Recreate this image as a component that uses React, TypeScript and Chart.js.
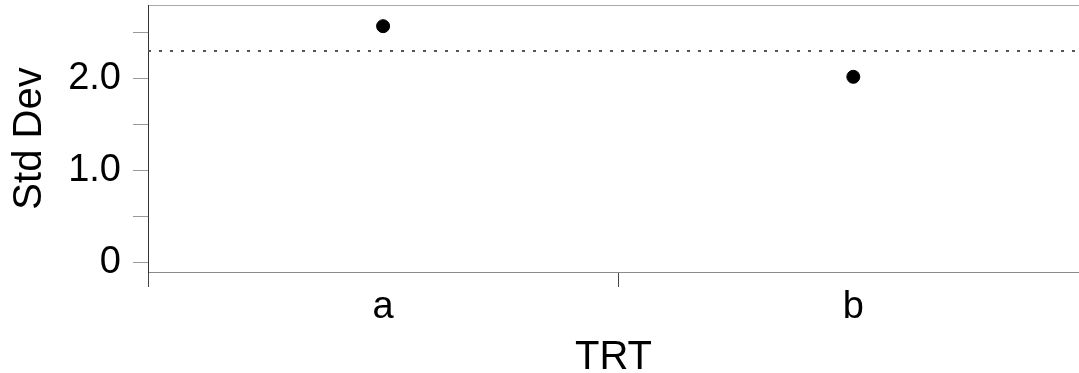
import React, { useEffect, useRef } from "react";
import { Chart, registerables } from "chart.js";

Chart.register(...registerables);

const categories = ["a", "b"];
const stdDevValues = [2.57, 2.02];
const pooledStdDev = 2.3;
const yMajorTicks = [0, 1, 2];
const yMinorTicks = [0.5, 1.5, 2.5];
const yTickLabels = ["0", "1.0", "2.0"];

const FONT = "'Liberation Sans', Arial, Helvetica, sans-serif";
const AXIS_GRAY = "#8a8a8a";

export default function App() {
  const ref = useRef<HTMLCanvasElement | null>(null);

  useEffect(() => {
    if (!ref.current) return;
    const xMax = categories.length - 0.02;
    const points = categories.map((_, i) => ({ x: i + 0.5, y: stdDevValues[i] }));
    const chart = new Chart(ref.current, {
      type: "scatter",
      data: {
        datasets: [
          {
            type: "line",
            data: [
              { x: 0, y: pooledStdDev },
              { x: xMax, y: pooledStdDev },
            ],
            borderColor: "#555",
            borderWidth: 2,
            borderDash: [3, 8],
            pointRadius: 0,
            fill: false,
          } as any,
          {
            data: points,
            backgroundColor: "#000",
            borderColor: "#000",
            pointRadius: 6.5,
            pointHoverRadius: 6.5,
          },
        ],
      },
      options: {
        animation: false,
        responsive: false,
        maintainAspectRatio: false,
        layout: { padding: 0, autoPadding: false },
        plugins: { legend: { display: false }, tooltip: { enabled: false } },
        scales: {
          x: {
            type: "linear",
            position: "bottom",
            min: 0,
            max: xMax,
            afterBuildTicks: (s: any) => {
              s.ticks = [0, 0.5, 1, 1.5].map((v) => ({ value: v }));
            },
            afterFit: (s: any) => {
              s.height = 101;
              s.paddingLeft = 0;
              s.paddingRight = 0;
            },
            ticks: {
              autoSkip: false,
              maxRotation: 0,
              padding: -2,
              color: "#000",
              font: { family: FONT, size: 38 },
              callback: (v: any) => {
                const idx = Number(v) - 0.5;
                return Number.isInteger(idx) ? categories[idx] : "";
              },
            },
            grid: {
              drawOnChartArea: false,
              tickLength: 15,
              tickColor: (ctx: any) =>
                ctx.tick && Number.isInteger(ctx.tick.value) ? "#444" : "rgba(0,0,0,0)",
            },
            border: { color: AXIS_GRAY, width: 1, dash: [2, 1] },
            title: {
              display: true,
              text: "TRT",
              color: "#000",
              font: { family: FONT, size: 40 },
              padding: { top: 0, bottom: -9 },
            },
          },
          xTop: {
            type: "linear",
            position: "top",
            min: 0,
            max: xMax,
            afterFit: (s: any) => {
              s.height = 5;
              s.paddingLeft = 0;
              s.paddingRight = 0;
            },
            ticks: { display: false },
            grid: { display: false, drawTicks: false },
            border: { display: true, color: "#aaa", width: 1, dash: [2, 1] },
          },
          y: {
            type: "linear",
            min: -0.1,
            max: 2.8,
            afterBuildTicks: (s: any) => {
              s.ticks = [...yMajorTicks, ...yMinorTicks]
                .sort((a, b) => a - b)
                .map((v) => ({ value: v }));
            },
            afterFit: (s: any) => {
              s.width = 148;
              s.paddingTop = 0;
              s.paddingBottom = 0;
            },
            ticks: {
              autoSkip: false,
              padding: 12,
              color: "#000",
              font: { family: FONT, size: 38 },
              callback: (v: any) => {
                const i = yMajorTicks.indexOf(Number(v));
                return i >= 0 ? yTickLabels[i] : "";
              },
            },
            grid: {
              drawOnChartArea: false,
              tickLength: 15,
              tickColor: "#999",
            },
            border: { color: "#333", width: 1, dash: [2, 1] },
            title: {
              display: true,
              text: "Std Dev",
              color: "#000",
              font: { family: FONT, size: 40 },
              padding: { top: 6, bottom: 4 },
            },
          },
        },
      },
    });
    return () => chart.destroy();
  }, []);

  return (
    <div style={{ position: "fixed", left: 0, top: 0, width: 1079, height: 373, background: "#fff" }}>
      <canvas ref={ref} width={1079} height={373} style={{ width: 1079, height: 373, display: "block" }} />
    </div>
  );
}
